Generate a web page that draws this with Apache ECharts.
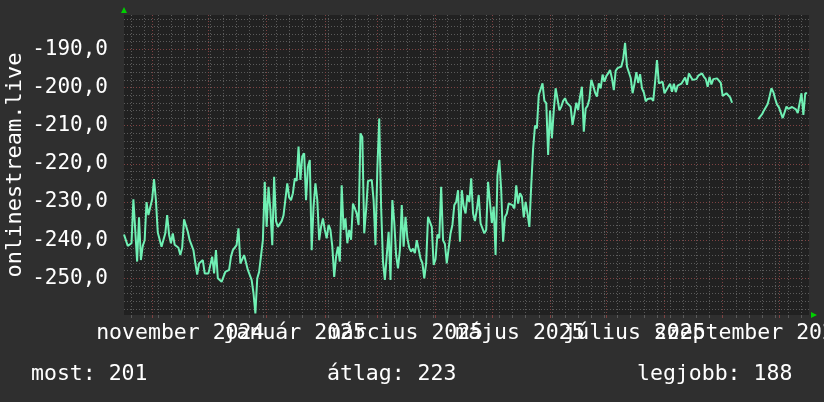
<!DOCTYPE html>
<html><head><meta charset="utf-8">
<script src="https://cdn.jsdelivr.net/npm/echarts@6/dist/echarts.min.js"></script>
<style>html,body{margin:0;padding:0;background:#2f2f2f}#c{width:824px;height:402px}</style>
</head><body><div id="c"></div>
<script>
// ---- data ----
const startDate = '2024-10-17';          // first daily sample
const endDate = '2025-10-17';            // end of the graph window
const values = [
 -238.5,-238.7,-241.5,-241,-240.8,-229.3,-229.5,-245.6,-234,-245.2,
 -241.5,-240,-230,-233.4,-233.4,-229.3,-224,-229.5,-238,-238,
 -241.7,-241.7,-238.2,-233.4,-238.5,-240.8,-238.2,-241.2,-241.4,-242,
 -243.9,-242,-234.5,-234.6,-237.8,-240,-240.4,-242.6,-246,-249,
 -246.1,-246,-245.2,-248.7,-248.3,-248.7,-248.3,-244.3,-248.7,-242.6,
 -250,-250.4,-250.9,-251.1,-248.3,-248.7,-247.8,-244.3,-242.6,-242.4,
 -241.3,-236.9,-246.1,-246.5,-243.9,-243.5,-247.8,-248.3,-250.4,-253.9,
 -259.2,-250,-248.3,-247.8,-240,-224.7,-236.5,-226,-232.1,-241.3,
 -223.4,-235,-236.5,-236.9,-235,-233.5,-233.8,-225.1,-228.8,-229.5,
 -227.7,-223.8,-224.5,-215.5,-224.2,-218,-217.2,-229.5,-220.8,-219,
 -242.6,-231.2,-225.1,-229.5,-240,-236.5,-234.3,-237.3,-239.5,-236,
 -237.3,-241.7,-249.6,-244.3,-241.7,-245.6,-225.6,-237.3,-234.3,-240.8,
 -237.3,-239.9,-230.4,-230,-233,-236,-212,-213,-238.2,-232.1,
 -224.5,-224.2,-224.2,-229.5,-241.3,-221.2,-208.1,-231.2,-245.6,-250.4,
 -250.4,-237.8,-250.4,-229.5,-235.2,-244,-247.4,-242.6,-230.8,-241.7,
 -233.9,-239.5,-242,-243,-242.2,-243.4,-240,-239.6,-244.8,-246,
 -250,-246,-233.9,-234,-236.5,-246.5,-245,-238.5,-239.5,-226,
 -240,-241,-246.1,-245.6,-238.2,-236,-230.8,-230,-226.9,-240.4,
 -226.9,-231.2,-233,-228.2,-230,-223.8,-233,-235,-232,-228.2,
 -235.6,-236,-238.2,-237.3,-224.7,-225.1,-235.5,-231.2,-243.9,-223,
 -219,-227,-240.4,-233.9,-233,-230.4,-230.4,-230.8,-231.7,-225.6,
 -230.4,-227.7,-228.6,-234,-230,-233,-236.5,-225.6,-216,-210,
 -210.7,-202,-202.4,-198.9,-203.5,-204.1,-217.7,-206,-213.3,-206,
 -200.2,-203,-206,-205,-203.5,-202.8,-204,-203.5,-205,-209.8,
 -207,-204,-205.9,-202.4,-199.8,-211.6,-205.5,-204.8,-203,-198,
 -199.5,-201.3,-202.4,-198.9,-200.2,-196.6,-198.5,-197,-196.3,-195.4,
 -197.6,-200.7,-195.6,-194.9,-194.5,-194.5,-192.5,-188.3,-194.5,-194,
 -197.5,-201.5,-199,-196,-198.8,-196.5,-200.2,-201.3,-203.6,-203,
 -203.4,-202.8,-203.5,-198.5,-192.8,-198.9,-199.1,-198.5,-201.5,-202,
 -199.8,-199,-201.1,-199,-201.2,-199.5,-199.3,-199,-198.6,-197.4,
 -199.3,-196.3,-196.5,-198,-197.6,-197.8,-196.9,-197.1,-196.3,-197.2,
 -197.8,-199.8,-197.2,-199.2,-197.8,-197.9,-197.6,-198,-198.8,-202.2,
 -202.2,-201.5,-201,-202.6,-204,null,null,null,null,null,
 null,null,null,null,null,null,null,null,-208.3,-207.6,
 -207,-206,-205.5,-204.3,-202.3,-200.2,-201.2,-203,-204.5,-205.2,
 -205.5,-208,-207.8,-205,-205.6,-205.8,-205.1,-205.3,-205.7,-206.7,
 -206.8,-201.5,-207.2,-201.5,-201.5
];
const monthStarts = ['2024-11-01','2024-12-01','2025-01-01','2025-02-01','2025-03-01','2025-04-01',
  '2025-05-01','2025-06-01','2025-07-01','2025-08-01','2025-09-01','2025-10-01'];
const labelMonths = ['2024-11-01','2025-01-01','2025-03-01','2025-05-01','2025-07-01','2025-09-01'];
const monthNames = ['január','február','március','április','május','június','július',
  'augusztus','szeptember','október','november','december'];
const yMajorTicks = [-250,-240,-230,-220,-210,-200,-190];
const yRange = [-259.6, -181.0];
const yAxisName = 'onlinestream.live';
const legendItems = [['most', 201], ['átlag', 223], ['legjobb', 188]];

// ---- build ----
const DAY = 86400000;
const t = s => Date.parse(s + 'T00:00:00Z');
const t0 = t(startDate), t1 = t(endDate);
const seriesData = values.map((v, i) => [t0 + i * DAY, v]);
const weekly = [];
for (let d = t0; d <= t1; d += DAY) { if (new Date(d).getUTCDay() === 1) weekly.push(d); }
const monthly = monthStarts.map(t);
const labelPos = labelMonths.map(s => t(s) + 15 * DAY);
const labelsA = labelPos.filter((v, i) => i % 2 === 0);
const labelsB = labelPos.filter((v, i) => i % 2 === 1);
const yMinor = [];
for (let v = -258; v <= -182; v += 2) yMinor.push(v);

const FONT = 'DejaVu Sans Mono';
const gray = '#5a5a5a', red = '#7e4242', green = '#00d000';
const base = { type: 'value', min: t0, max: t1, position: 'bottom', gridIndex: 0 };
const monthFmt = v => { const d = new Date(v); return monthNames[d.getUTCMonth()] + ' ' + d.getUTCFullYear(); };
const labelAxis = vals => Object.assign({}, base, {
  axisLine: { show: false }, axisTick: { show: false }, splitLine: { show: false },
  axisLabel: {
    show: true, customValues: vals, margin: 7, color: '#ffffff',
    fontFamily: FONT, fontSize: 21.5, hideOverlap: false, showMinLabel: true, showMaxLabel: true,
    formatter: monthFmt
  }
});

const chart = echarts.init(document.getElementById('c'), null, { renderer: 'canvas' });
chart.setOption({
  backgroundColor: '#2f2f2f',
  animation: false,
  grid: { left: 124, right: 15, top: 15, bottom: 87, show: true, backgroundColor: '#212121', borderWidth: 0,
    containLabel: false, outerBoundsMode: 'none' },
  xAxis: [
    Object.assign({}, base, {
      axisLine: { show: false },
      axisTick: { show: true, customValues: weekly, length: 3, lineStyle: { color: gray } },
      splitLine: { show: true, lineStyle: { color: gray, type: [1, 2], width: 1 } },
      axisLabel: { show: false }
    }),
    Object.assign({}, base, {
      axisLine: { show: false },
      axisTick: { show: true, customValues: monthly, length: 3, lineStyle: { color: red } },
      splitLine: { show: true, lineStyle: { color: red, type: [1, 2], width: 1 } },
      axisLabel: { show: false }
    }),
    labelAxis(labelsA),
    labelAxis(labelsB),
    Object.assign({}, base, {
      axisLine: { show: true, symbol: ['none', 'triangle'], symbolSize: [6, 6], symbolOffset: [0, 5],
        lineStyle: { color: green, width: 0 } },
      axisTick: { show: false }, splitLine: { show: false }, axisLabel: { show: false }
    })
  ],
  yAxis: [
    {
      type: 'value', min: yRange[0], max: yRange[1], position: 'left',
      axisLine: { show: false },
      axisTick: { show: false, customValues: yMinor },
      splitLine: { show: true, lineStyle: { color: gray, type: [1, 2], width: 1 } },
      axisLabel: { show: false }
    },
    {
      type: 'value', min: yRange[0], max: yRange[1], position: 'left',
      name: yAxisName, nameLocation: 'middle', nameGap: 98, nameMoveOverlap: false,
      nameTextStyle: { color: '#ffffff', fontFamily: FONT, fontSize: 22 },
      axisLine: { show: false },
      axisTick: { show: false, customValues: yMajorTicks },
      splitLine: { show: true, lineStyle: { color: red, type: [1, 2], width: 1 } },
      axisLabel: {
        show: true, customValues: yMajorTicks, margin: 16, color: '#ffffff',
        fontFamily: FONT, fontSize: 21, showMinLabel: true, showMaxLabel: true,
        formatter: v => v.toFixed(1).replace('.', ',')
      }
    },
    {
      type: 'value', min: yRange[0], max: yRange[1], position: 'left',
      axisLine: { show: true, symbol: ['none', 'triangle'], symbolSize: [6, 6], symbolOffset: [0, 5],
        lineStyle: { color: green, width: 0 } },
      axisTick: { show: false }, splitLine: { show: false }, axisLabel: { show: false }
    }
  ],
  series: [{
    type: 'line', xAxisIndex: 0, yAxisIndex: 0, data: seriesData,
    showSymbol: false, connectNulls: false,
    lineStyle: { color: '#70f0b4', width: 2 }
  }],
  graphic: legendItems.map((it, i) => ({
    type: 'text',
    x: [31, 327, 637][i], y: 374,
    style: { text: it[0] + ': ' + it[1], fill: '#ffffff', font: '21.5px "DejaVu Sans Mono"', verticalAlign: 'middle' }
  }))
});
</script></body></html>
